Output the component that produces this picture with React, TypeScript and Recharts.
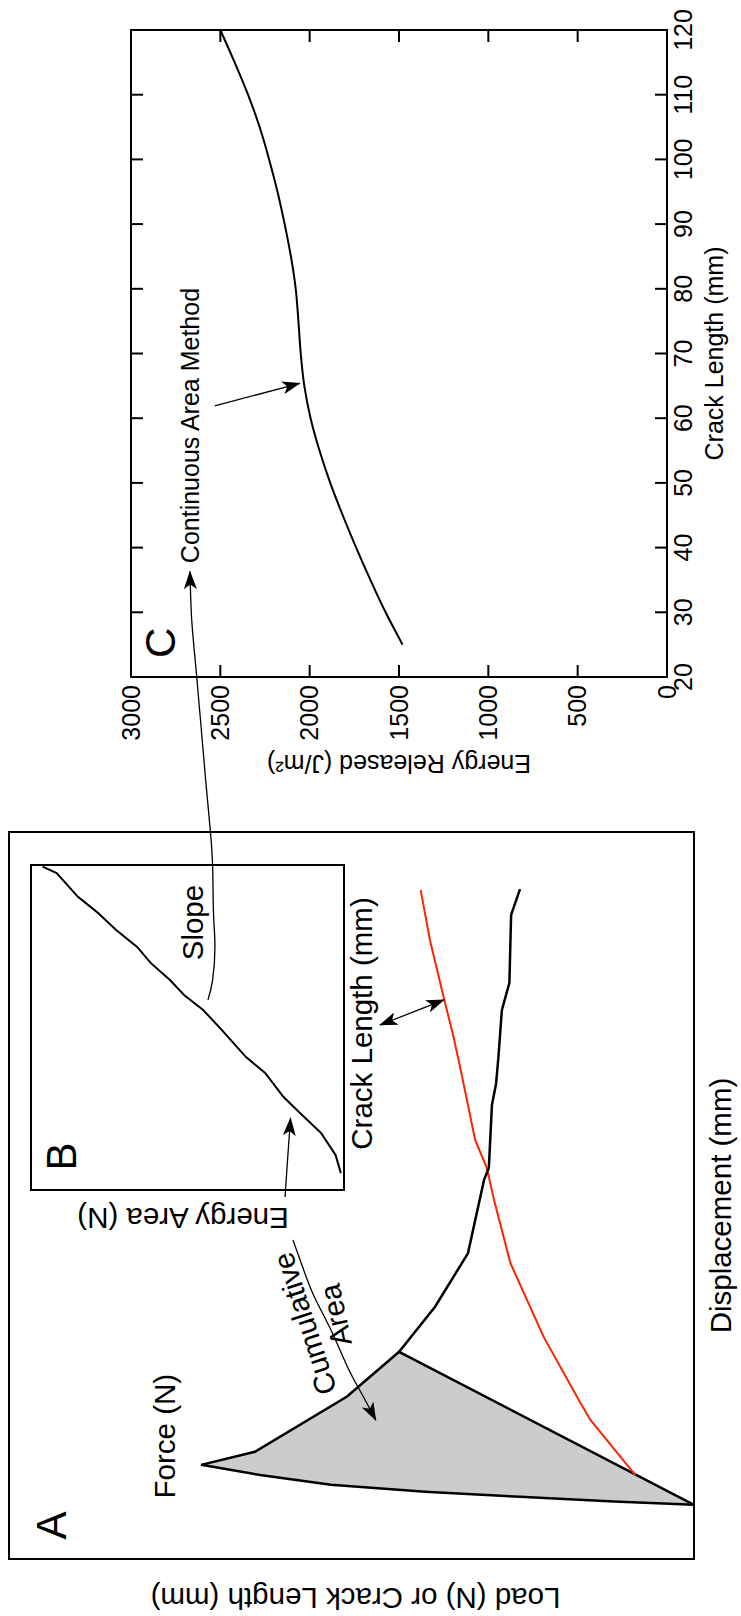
import React from 'react';
import { ComposedChart, Line, Area, XAxis, YAxis, ReferenceArea, ReferenceDot } from 'recharts';

const FONT = '"Liberation Sans", Arial, Helvetica, sans-serif';

// ---------- Panel A: force and crack length against displacement ----------
const forceDisp = [1.49, 1.58, 1.71, 1.85, 2.04, 2.31, 2.59, 2.95, 4.47, 5.7, 6.94, 8.41, 10.43, 10.76, 12.49, 13.07, 13.81, 15.1, 15.85, 17.72, 18.43];
const forceLoad = [0, 23.4, 50.8, 78.5, 106.0, 126.7, 143.9, 128.2, 101.3, 86.1, 75.6, 66.0, 61.3, 59.9, 59.0, 57.8, 57.1, 56.1, 53.9, 53.4, 50.8];
const unloadAt = 9; // point where the straight unloading line returns to the origin
const crackDisp = [2.31, 3.82, 4.37, 6.11, 8.14, 9.88, 10.76, 11.53, 13.45, 14.36, 15.38, 17.03, 18.4];
const crackLen = [17.1, 30.2, 33.6, 43.9, 53.6, 58.4, 60.5, 63.9, 68.1, 70.2, 72.9, 77.1, 79.8];

// ---------- Panel B: energy area against crack length ----------
const bCrack = [5.2, 10.8, 17.5, 23.1, 28.6, 36.0, 40.9, 49.2, 55.4, 60.0, 64.6, 69.8, 74.8, 80.0, 85.5, 90.2, 97.5, 99.5];
const bArea = [1.0, 2.7, 7.3, 13.4, 19.3, 25.2, 31.3, 39.0, 45.0, 51.1, 55.6, 61.7, 66.1, 72.8, 78.9, 85.0, 91.8, 96.3];

// ---------- Panel C: energy released against crack length ----------
const cCrack = [25, 30, 35, 40, 45, 50, 55, 60, 65, 70, 75, 80, 85, 90, 95, 100, 105, 110, 115, 120];
const cEnergy = [1480, 1575, 1660, 1740, 1815, 1885, 1945, 1995, 2030, 2050, 2063, 2078, 2105, 2140, 2180, 2227, 2280, 2345, 2420, 2500];
const cCrackTicks = [20, 30, 40, 50, 60, 70, 80, 90, 100, 110, 120];
const cEnergyTicks = [0, 500, 1000, 1500, 2000, 2500, 3000];

// ---------- annotation arrows (in the units of their panel) ----------
const cumArrowX = [8.78, 8.04, 7.22, 6.3, 5.29, 4.56, 3.82];
const cumArrowY = [117.1, 114.3, 110.9, 106.0, 101.2, 97.1, 92.9];
const energyArrowX = [9.96, 10.81, 12.13];
const energyArrowY = [119.4, 118.8, 117.8];
const crackArrowX = [14.69, 15.38];
const crackArrowY = [91.7, 73.0];
const slopeCrack = [-29.9, -26.8, -21.7, -16.5, -9.3, -3.7, 4.1, 20.0, 28.8, 36.3];
const slopeEnergy = [2569, 2543, 2530, 2538, 2543, 2556, 2582, 2632, 2660, 2670];
const camArrowCrack = [61.9, 65.4];
const camArrowEnergy = [2531, 2055];

const zip = (xs: number[], ys: number[]) => xs.map((x, i) => ({ x, y: ys[i] }));

const forceData = zip(forceDisp, forceLoad);
const crackData = zip(crackDisp, crackLen);
const unloadData = [forceData[0], forceData[unloadAt]];
const lineAt = (x: number) => {
  const a = forceData[0];
  const b = forceData[unloadAt];
  return a.y + ((x - a.x) * (b.y - a.y)) / (b.x - a.x);
};
const bandData = forceData.slice(0, unloadAt + 1).map((p) => ({ x: p.x, band: [lineAt(p.x), p.y] }));
const bData = zip(bCrack, bArea);
const cData = zip(cCrack, cEnergy);
const cumArrow = zip(cumArrowX, cumArrowY);
const energyArrow = zip(energyArrowX, energyArrowY);
const crackArrow = zip(crackArrowX, crackArrowY);
const slopeArrow = zip(slopeCrack, slopeEnergy);
const camArrow = zip(camArrowCrack, camArrowEnergy);

const TICK = 12;
const C_TOP = 131;
const C_RIGHT = 786;

const textShape = (label: string, size: number, anchor = 'middle', angle = 0, centered = false) => (p: any) => (
  <text
    x={p.cx}
    y={p.cy}
    dy={centered ? '0.35em' : undefined}
    textAnchor={anchor}
    fontFamily={FONT}
    fontSize={size}
    fill="#000"
    transform={angle ? `rotate(${angle} ${p.cx} ${p.cy})` : undefined}
  >
    {label}
  </text>
);

const BottomTick = (props: any) => {
  const { x, y, payload } = props;
  return (
    <g>
      <line x1={x} y1={y} x2={x} y2={y - TICK} stroke="#000" strokeWidth={2} />
      <line x1={x} y1={C_TOP} x2={x} y2={C_TOP + TICK} stroke="#000" strokeWidth={2} />
      <text x={x} y={y + 25} textAnchor="middle" fontFamily={FONT} fontSize={25} fill="#000">
        {payload.value}
      </text>
    </g>
  );
};

const LeftTick = (props: any) => {
  const { x, y, payload } = props;
  return (
    <g>
      <line x1={x} y1={y} x2={x + TICK} y2={y} stroke="#000" strokeWidth={2} />
      <line x1={C_RIGHT} y1={y} x2={C_RIGHT - TICK} y2={y} stroke="#000" strokeWidth={2} />
      <text x={x - 8} y={y} dy="0.35em" textAnchor="end" fontFamily={FONT} fontSize={25} fill="#000">
        {payload.value}
      </text>
    </g>
  );
};

const vbOr = (p: any, d: { x: number; y: number; width: number; height: number }) => (p && p.viewBox && typeof p.viewBox.x === 'number' ? p.viewBox : d);

const hLabel = (text: string, size: number, dx: number, dy: number, d: any) => (p: any) => {
  const vb = vbOr(p, d);
  return (
    <text x={vb.x + vb.width / 2 + dx} y={vb.y + dy} textAnchor="middle" fontFamily={FONT} fontSize={size} fill="#000">
      {text}
    </text>
  );
};

const vLabel = (text: string, size: number, dx: number, dy: number, d: any) => (p: any) => {
  const vb = vbOr(p, d);
  const x = vb.x + dx;
  const y = vb.y + vb.height / 2 + dy;
  return (
    <text x={x} y={y} textAnchor="middle" fontFamily={FONT} fontSize={size} fill="#000" transform={`rotate(-90 ${x} ${y})`}>
      {text}
    </text>
  );
};

const lineProps = { dot: false, activeDot: false, isAnimationActive: false, dataKey: 'y' } as any;

export default function App() {
  return (
    <div style={{ position: 'absolute', left: 0, top: 0, width: 741, height: 1616, overflow: 'hidden', background: '#fff' }}>
      <div
        style={{
          position: 'absolute',
          left: 0,
          top: 0,
          width: 1616,
          height: 741,
          transformOrigin: '0 0',
          transform: 'translate(0px, 1616px) rotate(-90deg)',
        }}
      >
        <svg width={0} height={0} style={{ position: 'absolute' }}>
          <defs>
            <marker id="ah" viewBox="0 0 20 14" markerUnits="userSpaceOnUse" markerWidth={19} markerHeight={13} refX={19} refY={7} orient="auto-start-reverse">
              <path d="M0,0 L20,7 L0,14 L5,7 Z" fill="#000" />
            </marker>
          </defs>
        </svg>

        {/* Panel A */}
        <div style={{ position: 'absolute', left: 0, top: 0 }}>
          <ComposedChart width={800} height={741} margin={{ top: 9, right: 16, bottom: 0, left: 0 }}>
            <XAxis
              dataKey="x"
              type="number"
              domain={[0, 20]}
              height={47}
              tick={false}
              axisLine={false}
              tickLine={false}
              label={{ content: hLabel('Displacement (mm)', 29.5, -10, 37, { x: 57, y: 694, width: 727, height: 47 }) }}
            />
            <YAxis
              type="number"
              domain={[0, 200]}
              width={57}
              tick={false}
              axisLine={false}
              tickLine={false}
              label={{ content: vLabel('Load (N) or Crack Length (mm)', 29.5, 28, 4, { x: 0, y: 9, width: 57, height: 685 }) }}
            />
            <ReferenceArea x1={0} x2={20} y1={0} y2={200} fill="none" stroke="#000" strokeWidth={2} ifOverflow="visible" />
            <Area data={bandData} dataKey="band" type="linear" fill="#cccccc" fillOpacity={1} stroke="none" isAnimationActive={false} activeDot={false} />
            <Line {...lineProps} data={unloadData} type="linear" stroke="#000" strokeWidth={2.5} />
            <Line {...lineProps} data={crackData} type="linear" stroke="#ff2200" strokeWidth={2} />
            <Line {...lineProps} data={forceData} type="linear" stroke="#000" strokeWidth={2.5} />
            <Line {...lineProps} data={cumArrow} type="natural" stroke="#000" strokeWidth={1.3} markerEnd="url(#ah)" />
            <Line {...lineProps} data={energyArrow} type="natural" stroke="#000" strokeWidth={1.3} markerEnd="url(#ah)" />
            <Line {...lineProps} data={crackArrow} type="linear" stroke="#000" strokeWidth={1.3} markerStart="url(#ah)" markerEnd="url(#ah)" />
            <ReferenceDot x={0.92} y={183.4} r={0} ifOverflow="visible" shape={textShape('A', 42)} />
            <ReferenceDot x={3.38} y={151.5} r={0} ifOverflow="visible" shape={textShape('Force (N)', 29.5)} />
            <ReferenceDot x={6.47} y={113.7} r={0} ifOverflow="visible" shape={textShape('Cumulative', 29.5, 'middle', -18, true)} />
            <ReferenceDot x={6.71} y={104.7} r={0} ifOverflow="visible" shape={textShape('Area', 29.5, 'middle', -12, true)} />
          </ComposedChart>
        </div>

        {/* Panel B */}
        <div style={{ position: 'absolute', left: 370, top: 0 }}>
          <ComposedChart width={400} height={420} margin={{ top: 31, right: 19, bottom: 0, left: 0 }}>
            <XAxis
              dataKey="x"
              type="number"
              domain={[0, 100]}
              height={76}
              tick={false}
              axisLine={false}
              tickLine={false}
              label={{ content: hLabel('Crack Length (mm)', 29.5, 4, 28, { x: 56, y: 344, width: 325, height: 76 }) }}
            />
            <YAxis
              type="number"
              domain={[0, 100]}
              width={56}
              tick={false}
              axisLine={false}
              tickLine={false}
              label={{ content: vLabel('Energy Area (N)', 29.5, 38, -4.5, { x: 0, y: 31, width: 56, height: 313 }) }}
            />
            <ReferenceArea x1={0} x2={100} y1={0} y2={100} fill="none" stroke="#000" strokeWidth={2} ifOverflow="visible" />
            <Line {...lineProps} data={bData} type="linear" stroke="#000" strokeWidth={2} />
            <ReferenceDot x={10.3} y={85.6} r={0} ifOverflow="visible" shape={textShape('B', 42)} />
            <ReferenceDot x={82.3} y={45.0} r={0} ifOverflow="visible" shape={textShape('Slope', 29.5)} />
          </ComposedChart>
        </div>

        {/* Panel C */}
        <div style={{ position: 'absolute', left: 800, top: 0 }}>
          <ComposedChart width={816} height={741} margin={{ top: 131, right: 30, bottom: 0, left: 0 }}>
            <XAxis
              dataKey="x"
              type="number"
              domain={[20, 120]}
              ticks={cCrackTicks}
              interval={0}
              height={74}
              tickSize={0}
              tickMargin={0}
              axisLine={false}
              tickLine={false}
              tick={BottomTick}
              label={{ content: hLabel('Crack Length (mm)', 25, 0, 56, { x: 139, y: 667, width: 647, height: 74 }) }}
            />
            <YAxis
              type="number"
              domain={[0, 3000]}
              ticks={cEnergyTicks}
              interval={0}
              width={139}
              tickSize={0}
              tickMargin={0}
              axisLine={false}
              tickLine={false}
              tick={LeftTick}
              label={{ content: vLabel('Energy Released (J/m²)', 25, 61, 0, { x: 0, y: 131, width: 139, height: 536 }) }}
            />
            <ReferenceArea x1={20} x2={120} y1={0} y2={3000} fill="none" stroke="#000" strokeWidth={2} ifOverflow="visible" />
            <Line {...lineProps} data={cData} type="monotone" stroke="#000" strokeWidth={2} />
            <Line {...lineProps} data={camArrow} type="linear" stroke="#000" strokeWidth={1.3} markerEnd="url(#ah)" />
            <ReferenceDot x={25.3} y={2754} r={0} ifOverflow="visible" shape={textShape('C', 42)} />
            <ReferenceDot x={37.6} y={2619} r={0} ifOverflow="visible" shape={textShape('Continuous Area Method', 25, 'start')} />
          </ComposedChart>
        </div>

        {/* Slope arrow running from panel B to panel C, in panel C units */}
        <div style={{ position: 'absolute', left: 0, top: 0 }}>
          <ComposedChart width={1616} height={741} margin={{ top: 0, right: 0, bottom: 0, left: 0 }}>
            <XAxis dataKey="x" type="number" domain={[-125.1, 124.6]} hide />
            <YAxis type="number" domain={[-414.2, 3733]} hide />
            <Line {...lineProps} data={slopeArrow} type="natural" stroke="#000" strokeWidth={1.3} markerEnd="url(#ah)" />
          </ComposedChart>
        </div>
      </div>
    </div>
  );
}
